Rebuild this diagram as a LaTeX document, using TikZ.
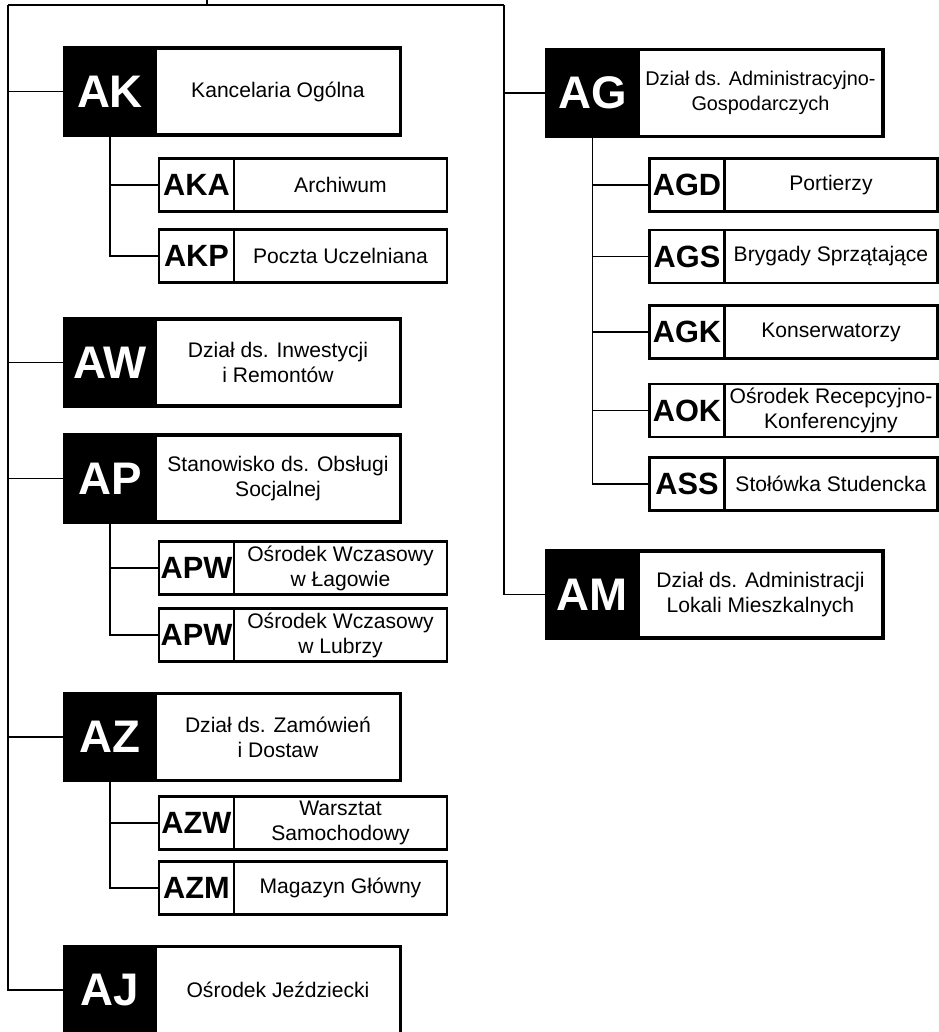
\documentclass[tikz,border=0pt]{standalone}
\usepackage{fontspec}
\setmainfont{Liberation Sans}
\usetikzlibrary{positioning}
\begin{document}
\begin{tikzpicture}[x=0.02cm,y=-0.02cm]

      \tikzset{maincode/.style={draw, fill=black, text=white, line width=2.2pt, outer sep=0pt, inner sep=0pt, minimum width=1.82cm, minimum height=1.74cm, font=\fontsize{26}{26}\selectfont\bfseries},
               mainname/.style={draw, fill=white, line width=2.2pt, outer sep=0pt, inner sep=0pt, minimum width=4.9cm, minimum height=1.74cm, align=center, font=\fontsize{12}{14.2}\selectfont},
               subcode/.style={draw, fill=white, line width=1.6pt, outer sep=0pt, inner sep=0pt, minimum width=1.5cm, minimum height=1.06cm, font=\fontsize{17.5}{17.5}\selectfont\bfseries},
               subname/.style={draw, fill=white, line width=1.6pt, outer sep=0pt, inner sep=0pt, minimum width=4.26cm, minimum height=1.06cm, align=center, font=\fontsize{12}{14.2}\selectfont},
               link/.style={line width=1.1pt}}
      \useasboundingbox (0,0) rectangle (939,1032);
%% Left column
      	\node[maincode] (AK) at (110,91.5) {AK};
      	\node[mainname, right=0pt of AK] (AKn) {Kancelaria Ogólna};
      	\node[subcode] (AKA) at (196.5,185) {AKA};
      	\node[subname, right=0pt of AKA] (AKAn) {Archiwum};
      	\node[subcode] (AKP) at (196.5,256) {AKP};
      	\node[subname, right=0pt of AKP] (AKPn) {Poczta Uczelniana};
      	\node[maincode] (AW) at (110,362.5) {AW};
      	\node[mainname, right=0pt of AW] (AWn) {Dział ds. Inwestycji\\i Remontów};
      	\node[maincode] (AP) at (110,478.5) {AP};
      	\node[mainname, right=0pt of AP] (APn) {Stanowisko ds. Obsługi\\Socjalnej};
      	\node[subcode] (APWa) at (196.5,568) {APW};
      	\node[subname, right=0pt of APWa] (APWan) {Ośrodek Wczasowy\\w Łagowie};
      	\node[subcode] (APWb) at (196.5,635) {APW};
      	\node[subname, right=0pt of APWb] (APWbn) {Ośrodek Wczasowy\\w Lubrzy};
      	\node[maincode] (AZ) at (110,737) {AZ};
      	\node[mainname, right=0pt of AZ] (AZn) {Dział ds. Zamówień\\i Dostaw};
      	\node[subcode] (AZW) at (196.5,823) {AZW};
      	\node[subname, right=0pt of AZW] (AZWn) {Warsztat\\Samochodowy};
      	\node[subcode] (AZM) at (196.5,888) {AZM};
      	\node[subname, right=0pt of AZM] (AZMn) {Magazyn Główny};
      	\node[maincode] (AJ) at (110,990) {AJ};
      	\node[mainname, right=0pt of AJ] (AJn) {Ośrodek Jeździecki};
%% Right column
      	\node[maincode] (AG) at (592.5,93) {AG};
      	\node[mainname, right=0pt of AG, font=\fontsize{11.3}{14.2}\selectfont] (AGn) {Dział ds. Administracyjno-\\Gospodarczych};
      	\node[subcode] (AGD) at (687,185) {AGD};
      	\node[subname, right=0pt of AGD] (AGDn) {Portierzy};
      	\node[subcode] (AGS) at (687,256.5) {AGS};
      	\node[subname, right=0pt of AGS] (AGSn) {Brygady Sprzątające};
      	\node[subcode] (AGK) at (687,332) {AGK};
      	\node[subname, right=0pt of AGK] (AGKn) {Konserwatorzy};
      	\node[subcode] (AOK) at (687,410.5) {AOK};
      	\node[subname, right=0pt of AOK] (AOKn) {Ośrodek Recepcyjno-\\Konferencyjny};
      	\node[subcode] (ASS) at (687,484) {ASS};
      	\node[subname, right=0pt of ASS] (ASSn) {Stołówka Studencka};
      	\node[maincode] (AM) at (592.5,594.5) {AM};
      	\node[mainname, right=0pt of AM] (AMn) {Dział ds. Administracji\\Lokali Mieszkalnych};
%Lines
		\coordinate (top) at (207,0);
		\coordinate (tl) at (8,5);
		\coordinate (tr) at (504,5);
		\draw[link] (top) -- (top |- tl);
		\draw[link] (tl) -- (tr);
		\draw[link] (tl) |- (AJ.west);
		\draw[link] (tr) |- (AM.west);
		\foreach \n in {AK,AW,AP,AZ}
			\draw[link] (tl |- \n.west) -- (\n.west);
		\draw[link] (tr |- AG.west) -- (AG.west);
		\draw[link] (AK.south) |- (AKP.west);
		\draw[link] (AK.south |- AKA.west) -- (AKA.west);
		\draw[link] (AP.south) |- (APWb.west);
		\draw[link] (AP.south |- APWa.west) -- (APWa.west);
		\draw[link] (AZ.south) |- (AZM.west);
		\draw[link] (AZ.south |- AZW.west) -- (AZW.west);
		\draw[link] (AG.south) |- (ASS.west);
		\foreach \n in {AGD,AGS,AGK,AOK}
			\draw[link] (AG.south |- \n.west) -- (\n.west);

\end{tikzpicture}
\end{document}
